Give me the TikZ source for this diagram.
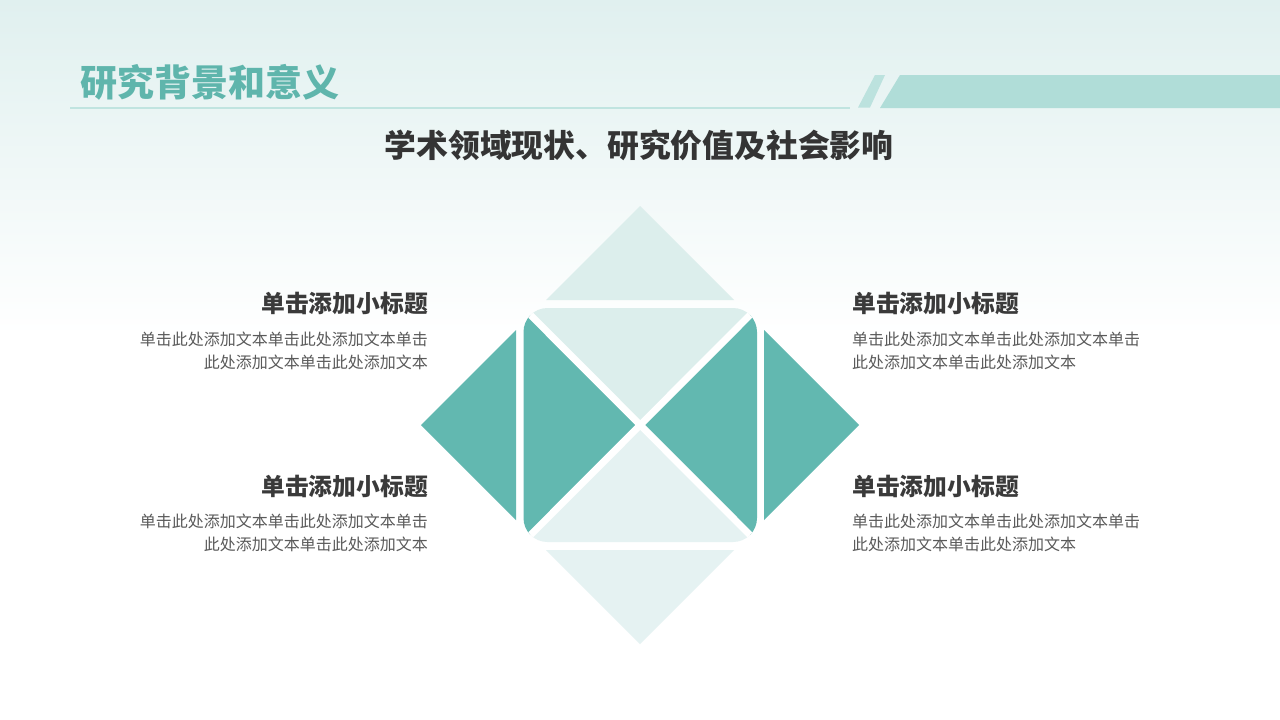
\documentclass[tikz,border=0pt]{standalone}
\usepackage{fontspec}
\newfontfamily\cjk{Noto Sans CJK SC}
\definecolor{teal1}{HTML}{62B8B0}
\definecolor{tealtxt}{HTML}{5FB5AC}
\definecolor{barc}{HTML}{B0DDD8}
\definecolor{lite1}{HTML}{DCEEEC}
\definecolor{lite2}{HTML}{E5F2F2}
\definecolor{bgtop}{HTML}{E0F0EF}
\definecolor{headc}{HTML}{3A3A3A}
\definecolor{bodyc}{HTML}{5A5A5A}
\tikzset{
  headtxt/.style={font=\cjk\bfseries\fontsize{23.8}{28}\selectfont, text=headc, inner sep=0pt},
  bodytxt/.style={font=\cjk\fontsize{16}{23.5}\selectfont, text=bodyc, inner sep=0pt},
}
\begin{document}
\begin{tikzpicture}[x=1pt,y=-1pt]
\useasboundingbox (0,0) rectangle (1280,720);
\fill[white] (0,0) rectangle (1280,720);
\shade[top color=bgtop, bottom color=white] (0,0) rectangle (1280,335);
% header
\draw[barc!80, line width=2pt] (70,107.5) -- (850,107.5);
\fill[barc!85] (875,75) -- (885,75) -- (870,107.5) -- (858,107.5) -- cycle;
\fill[barc] (900,75) -- (1280,75) -- (1280,108) -- (880,108) -- cycle;
\node[font=\cjk\bfseries\fontsize{37}{42}\selectfont, text=tealtxt, anchor=west, inner sep=0pt] (title) at (80,82) {研究背景和意义};
\node[font=\cjk\bfseries\fontsize{31.8}{36}\selectfont, text=headc!90!black, inner sep=0pt] (sub) at (639,145) {学术领域现状、研究价值及社会影响};
% outer triangles
\fill[lite1] (640,206) -- (734,300) -- (546,300) -- cycle;
\fill[lite2] (546,550) -- (734,550) -- (640,644) -- cycle;
\fill[teal1] (421,425) -- (516,330) -- (516,520) -- cycle;
\fill[teal1] (859,425) -- (764,330) -- (764,520) -- cycle;
% middle rounded square
\begin{scope}
\clip[rounded corners=24pt] (523.5,308) rectangle (757,542);
\fill[lite1] (523.5,308) -- (757,308) -- (640.25,425) -- cycle;
\fill[lite2] (523.5,542) -- (757,542) -- (640.25,425) -- cycle;
\fill[teal1] (523.5,308) -- (523.5,542) -- (640.25,425) -- cycle;
\fill[teal1] (757,308) -- (757,542) -- (640.25,425) -- cycle;
\draw[white, line width=7pt] (523.5,308) -- (757,542);
\draw[white, line width=7pt] (757,308) -- (523.5,542);
\end{scope}
% text blocks
\node[headtxt, anchor=east] (h1) at (428,303) {单击添加小标题};
\node[bodytxt, anchor=north east, align=right] (b1) at (428,331.5) {单击此处添加文本单击此处添加文本单击\\此处添加文本单击此处添加文本};
\node[headtxt, anchor=east] (h2) at (428,486) {单击添加小标题};
\node[bodytxt, anchor=north east, align=right] (b2) at (428,513.5) {单击此处添加文本单击此处添加文本单击\\此处添加文本单击此处添加文本};
\node[headtxt, anchor=west] (h3) at (852,303) {单击添加小标题};
\node[bodytxt, anchor=north west, align=left] (b3) at (852,331.5) {单击此处添加文本单击此处添加文本单击\\此处添加文本单击此处添加文本};
\node[headtxt, anchor=west] (h4) at (852,486) {单击添加小标题};
\node[bodytxt, anchor=north west, align=left] (b4) at (852,513.5) {单击此处添加文本单击此处添加文本单击\\此处添加文本单击此处添加文本};
\end{tikzpicture}
\end{document}
